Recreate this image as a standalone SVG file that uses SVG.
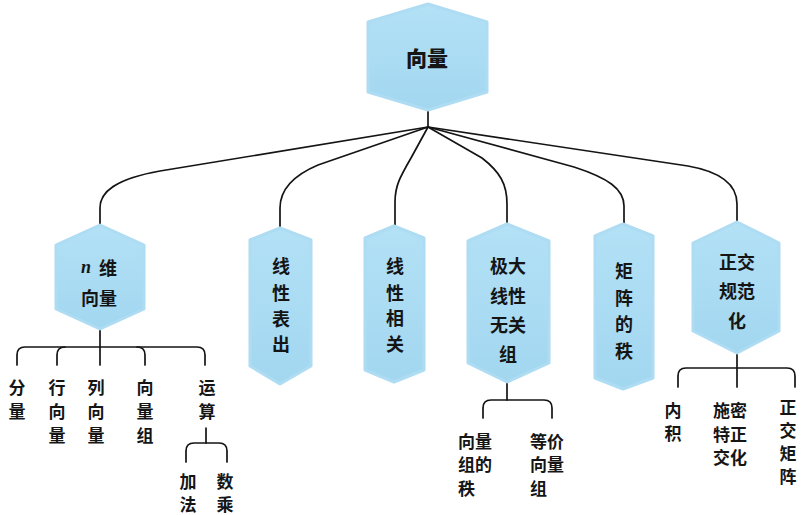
<svg xmlns="http://www.w3.org/2000/svg" width="803" height="515" viewBox="0 0 803 515">
<defs>
<linearGradient id="g" x1="0" y1="0" x2="0" y2="1">
<stop offset="0" stop-color="#b3e1f6"/>
<stop offset="1" stop-color="#a2d7f0"/>
</linearGradient>
</defs>
<style>
.hex{fill:url(#g);stroke:#aedcf3;stroke-width:3;stroke-linejoin:round}
.t{font-family:"Noto Sans CJK SC","Noto Sans",sans-serif;font-size:17px;font-weight:700;fill:#151515;text-anchor:middle;dominant-baseline:central}
.n{font-size:18px}
.tl{text-anchor:start}
.root{font-size:21px;font-weight:900}
.ln{fill:none;stroke:#141414;stroke-width:1.7;stroke-linecap:round;stroke-linejoin:round}
.it{font-family:"Liberation Serif",serif;font-style:italic;font-weight:700}
</style>
<rect width="803" height="515" fill="#ffffff"/>
<g id="connectors">
<path class="ln" d="M428,111 V127"/>
<path class="ln" d="M428,127 L160,171 C115,179 100,192 100,208 V225"/>
<path class="ln" d="M428,127 L318,165 C292,176 280,190 280,208 V228"/>
<path class="ln" d="M428,127 L411,158 C400,177 395,186 395,202 V226"/>
<path class="ln" d="M428,127 L482,158 C500,172 507,184 507,204 V224"/>
<path class="ln" d="M428,127 L574,167 C608,178 624,189 624,206 V224"/>
<path class="ln" d="M428,127 L688,166 C722,172 737,185 737,204 V222"/>
<path class="ln" d="M100,330 V365"/>
<path class="ln" d="M17,365 V355 Q17,347 25,347 H197 Q205,347 205,355 V365"/>
<path class="ln" d="M57,365 V355 Q57,347 65,347"/>
<path class="ln" d="M137,347 Q145,347 145,355 V365"/>
<path class="ln" d="M206,428 V443"/>
<path class="ln" d="M186,462 V451 Q186,443 194,443 H219 Q227,443 227,451 V462"/>
<path class="ln" d="M507,383 V400"/>
<path class="ln" d="M483,418 V408 Q483,400 491,400 H544 Q552,400 552,408 V418"/>
<path class="ln" d="M737,354 V387"/>
<path class="ln" d="M678,387 V376 Q678,368 686,368 H787 Q795,368 795,376 V387"/>
</g>
<g id="root">
<path class="hex" d="M428,4 L487,22 L487,92 L428,110 L368,92 L368,22 Z"/>
<text class="t root" x="427" y="57">向量</text>
</g>
<g id="n-vector">
<path class="hex" d="M100,225 L144,245 L144,309 L100,329 L56,309 L56,245 Z"/>
<text class="t n" y="267"><tspan class="it" x="86">n</tspan><tspan x="108">维</tspan></text>
<text class="t n" x="99" y="297">向量</text>
</g>
<g id="linear-rep">
<path class="hex" d="M280,228 L311,240 L311,366 L280,384 L250,366 L250,240 Z"/>
<text class="t n"><tspan x="281" y="265">线</tspan><tspan x="281" y="292">性</tspan><tspan x="281" y="318">表</tspan><tspan x="281" y="343">出</tspan></text>
</g>
<g id="linear-dep">
<path class="hex" d="M394,226 L424,238 L424,370 L394,382 L365,370 L365,238 Z"/>
<text class="t n"><tspan x="395" y="265">线</tspan><tspan x="395" y="292">性</tspan><tspan x="395" y="317">相</tspan><tspan x="395" y="343">关</tspan></text>
</g>
<g id="max-indep">
<path class="hex" d="M507,224 L549,241 L549,363 L507,382 L468,363 L468,241 Z"/>
<text class="t n"><tspan x="508" y="265">极大</tspan><tspan x="508" y="295">线性</tspan><tspan x="508" y="324">无关</tspan><tspan x="508" y="353">组</tspan></text>
</g>
<g id="rank">
<path class="hex" d="M623,224 L653,236 L653,378 L623,389 L595,378 L595,236 Z"/>
<text class="t n"><tspan x="624" y="270">矩</tspan><tspan x="624" y="297">阵</tspan><tspan x="624" y="323">的</tspan><tspan x="624" y="350">秩</tspan></text>
</g>
<g id="orthonorm">
<path class="hex" d="M737,222 L779,243 L779,331 L737,353 L693,331 L693,243 Z"/>
<text class="t n"><tspan x="737" y="261">正交</tspan><tspan x="737" y="290">规范</tspan><tspan x="737" y="320">化</tspan></text>
</g>
<g id="leaf-component">
<text class="t"><tspan x="17" y="386">分</tspan><tspan x="17" y="410">量</tspan></text>
</g>
<g id="leaf-row">
<text class="t"><tspan x="57" y="386">行</tspan><tspan x="57" y="410">向</tspan><tspan x="57" y="434">量</tspan></text>
</g>
<g id="leaf-col">
<text class="t"><tspan x="96" y="386">列</tspan><tspan x="96" y="410">向</tspan><tspan x="96" y="434">量</tspan></text>
</g>
<g id="leaf-set">
<text class="t"><tspan x="145" y="386">向</tspan><tspan x="145" y="410">量</tspan><tspan x="145" y="434">组</tspan></text>
</g>
<g id="leaf-ops">
<text class="t"><tspan x="207" y="386">运</tspan><tspan x="207" y="410">算</tspan></text>
</g>
<g id="leaf-add">
<text class="t"><tspan x="188" y="480">加</tspan><tspan x="188" y="503">法</tspan></text>
</g>
<g id="leaf-scalar">
<text class="t"><tspan x="225" y="480">数</tspan><tspan x="225" y="503">乘</tspan></text>
</g>
<g id="leaf-setrank">
<text class="t tl"><tspan x="458" y="440">向量</tspan><tspan x="458" y="463">组的</tspan><tspan x="458" y="487">秩</tspan></text>
</g>
<g id="leaf-equiv">
<text class="t tl"><tspan x="530" y="440">等价</tspan><tspan x="530" y="463">向量</tspan><tspan x="530" y="487">组</tspan></text>
</g>
<g id="leaf-inner">
<text class="t"><tspan x="673" y="409">内</tspan><tspan x="673" y="432">积</tspan></text>
</g>
<g id="leaf-schmidt">
<text class="t"><tspan x="730" y="409">施密</tspan><tspan x="730" y="433">特正</tspan><tspan x="730" y="456">交化</tspan></text>
</g>
<g id="leaf-orthmat">
<text class="t" font-size="16"><tspan x="788" y="406">正</tspan><tspan x="788" y="429">交</tspan><tspan x="788" y="452">矩</tspan><tspan x="788" y="475">阵</tspan></text>
</g>
</svg>
